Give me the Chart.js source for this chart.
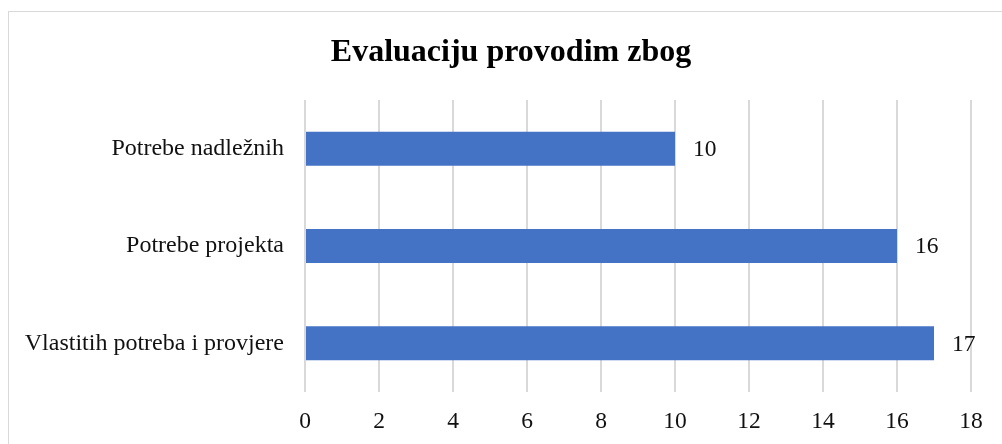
<!DOCTYPE html>
<html>
<head>
<meta charset="utf-8">
<script src="https://cdn.jsdelivr.net/npm/chart.js@4/dist/chart.umd.min.js"></script>
<style>
  body { margin: 0; background: #fff; overflow: hidden; }
  #frame { position: absolute; left: 8px; top: 11px; width: 1100px; height: 500px; border: 1px solid #d9d9d9; }
  #wrap { position: absolute; left: 0; top: 0; width: 1002px; height: 444px; }
</style>
</head>
<body>
<div id="frame"></div>
<div id="wrap"><canvas id="evalChart"></canvas></div>
<script>
const chartTitle = 'Evaluaciju provodim zbog';
const categories = ['Potrebe nadležnih', 'Potrebe projekta', 'Vlastitih potreba i provjere'];
const counts = [10, 16, 17];
const xTicks = [0, 2, 4, 6, 8, 10, 12, 14, 16, 18];

const fontFamily = '"Liberation Serif", "Times New Roman", serif';

// value labels to the right of each bar + title centred on the frame
const barLabels = {
  id: 'barLabels',
  afterDatasetsDraw(chart) {
    const ctx = chart.ctx;
    const meta = chart.getDatasetMeta(0);
    ctx.save();
    ctx.font = '23.5px ' + fontFamily;
    ctx.fillStyle = '#111';
    ctx.textAlign = 'left';
    ctx.textBaseline = 'middle';
    meta.data.forEach((bar, i) => {
      ctx.fillText(String(counts[i]), bar.x + 18, bar.y + 1);
    });
    ctx.font = 'bold 32px ' + fontFamily;
    ctx.fillStyle = '#000';
    ctx.textAlign = 'center';
    ctx.fillText(chartTitle, 511, 53);
    ctx.restore();
  }
};

new Chart(document.getElementById('evalChart'), {
  type: 'bar',
  data: {
    labels: categories,
    datasets: [{
      data: counts,
      backgroundColor: '#4472C4',
      barPercentage: 0.5,
      categoryPercentage: 0.7
    }]
  },
  options: {
    indexAxis: 'y',
    responsive: true,
    maintainAspectRatio: false,
    animation: false,
    layout: { padding: { left: 0, right: 31, top: 100, bottom: 0 } },
    plugins: {
      legend: { display: false },
      tooltip: { enabled: false },
      title: { display: false }
    },
    scales: {
      x: {
        min: 0,
        max: 18,
        afterBuildTicks: (scale) => { scale.ticks = xTicks.map(v => ({ value: v })); },
        afterFit: (scale) => { scale.height = 52; },
        grid: { color: '#d9d9d9', lineWidth: 2, drawTicks: false },
        border: { display: false },
        ticks: { color: '#111', padding: 16, font: { family: fontFamily, size: 23.5 } }
      },
      y: {
        afterFit: (scale) => { scale.width = 305; },
        grid: { display: false, drawTicks: false },
        border: { display: false },
        ticks: { color: '#111', padding: 21, font: { family: fontFamily, size: 24 } }
      }
    }
  },
  plugins: [barLabels]
});
</script>
</body>
</html>
